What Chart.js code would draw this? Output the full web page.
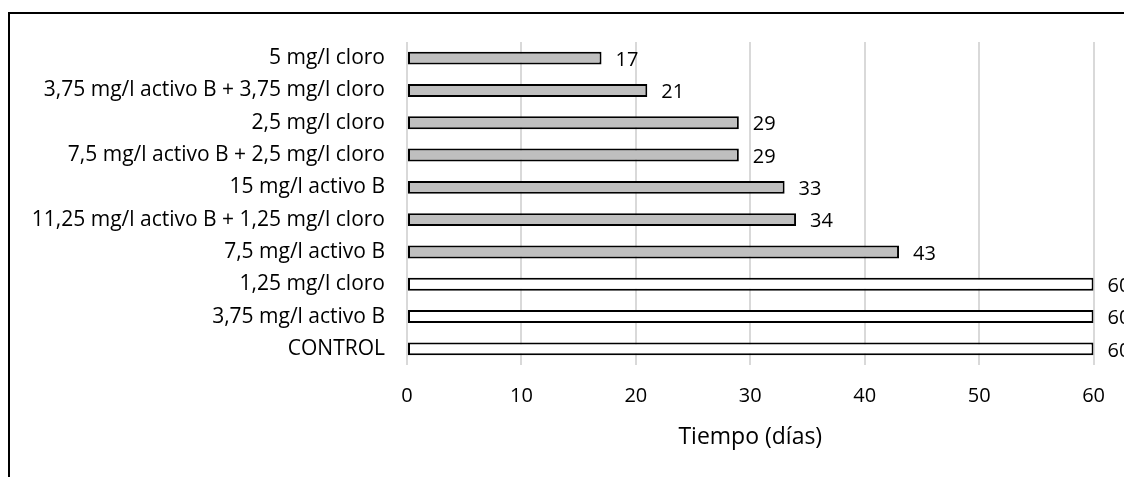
<!DOCTYPE html>
<html>
<head>
<meta charset="utf-8">
<script src="https://cdn.jsdelivr.net/npm/chart.js@4"></script>
<style>
    html, body { margin: 0; padding: 0; background: #fff; overflow: hidden; }
    #wrap { position: relative; width: 1124px; height: 477px; }
    #frame { position: absolute; left: 8px; top: 12px; width: 1300px; height: 600px; border: 2px solid #000; box-sizing: border-box; }
    #myChart { position: absolute; left: 0; top: 0; }
</style>
</head>
<body>
<div id="wrap">
    <div id="frame"></div>
    <canvas id="myChart" width="1124" height="477"></canvas>
</div>
<script>
const labels = [
    '5 mg/l cloro',
    '3,75 mg/l activo B + 3,75 mg/l cloro',
    '2,5 mg/l cloro',
    '7,5 mg/l activo B + 2,5 mg/l cloro',
    '15 mg/l activo B',
    '11,25 mg/l activo B + 1,25 mg/l cloro',
    '7,5 mg/l activo B',
    '1,25 mg/l cloro',
    '3,75 mg/l activo B',
    'CONTROL'
];
const dias = [17, 21, 29, 29, 33, 34, 43, 60, 60, 60];
const xTicks = [0, 10, 20, 30, 40, 50, 60];

const fontFamily = "'Open Sans', sans-serif";
const textColor = '#000';

// grey for treatments that failed before day 60, white for the rest
const fillColors = dias.map(d => d < 60 ? '#bfbfbf' : '#ffffff');

// writes the value next to the end of every bar
const valueLabels = {
    id: 'valueLabels',
    afterDatasetsDraw(chart) {
        const ctx = chart.ctx;
        ctx.save();
        ctx.font = '20px ' + fontFamily;
        ctx.fillStyle = textColor;
        ctx.textAlign = 'left';
        ctx.textBaseline = 'middle';
        chart.getDatasetMeta(0).data.forEach((bar, i) => {
            ctx.fillText(String(dias[i]), bar.x + 14, bar.y + 2);
        });
        ctx.restore();
    }
};

const ctx = document.getElementById('myChart').getContext('2d');
const myChart = new Chart(ctx, {
    type: 'bar',
    data: {
        labels: labels,
        datasets: [
            {
                label: 'Tiempo',
                data: dias,
                backgroundColor: fillColors,
                borderColor: '#000',
                borderWidth: 2,
                borderSkipped: false,
                barPercentage: 0.4,
                categoryPercentage: 1
            }
        ]
    },
    options: {
        indexAxis: 'y',
        responsive: false,
        animation: false,
        layout: {
            padding: { top: 42, right: 29, bottom: 0, left: 0 }
        },
        plugins: {
            legend: { display: false },
            tooltip: { enabled: false }
        },
        scales: {
            x: {
                min: 0,
                max: 60,
                afterBuildTicks: (scale) => {
                    scale.ticks = xTicks.map(v => ({ value: v }));
                },
                afterFit: (scale) => { scale.height = 112; },
                grid: {
                    color: '#d9d9d9',
                    lineWidth: 2,
                    drawTicks: false
                },
                border: { display: false },
                ticks: {
                    padding: 19,
                    color: textColor,
                    font: { family: fontFamily, size: 20 }
                },
                title: {
                    display: true,
                    text: 'Tiempo (días)',
                    color: textColor,
                    font: { family: fontFamily, size: 23 },
                    padding: { top: 0, bottom: 26 }
                }
            },
            y: {
                afterFit: (scale) => { scale.width = 407; },
                grid: { display: false, drawTicks: false },
                border: { display: false },
                ticks: {
                    padding: 22,
                    color: textColor,
                    font: { family: fontFamily, size: 21 }
                }
            }
        }
    },
    plugins: [valueLabels]
});
</script>
</body>
</html>
